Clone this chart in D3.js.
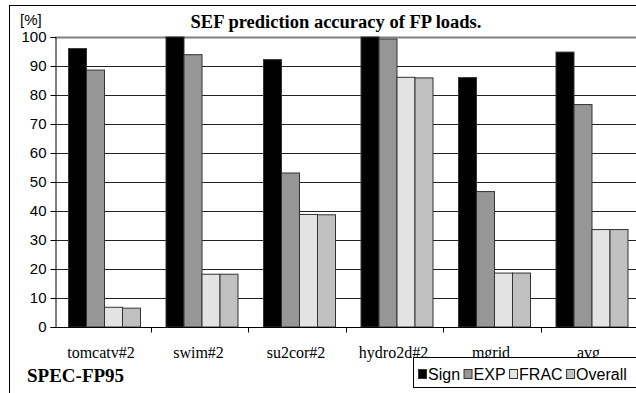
<!DOCTYPE html>
<html>
<head>
<meta charset="utf-8">
<script src="https://cdn.jsdelivr.net/npm/d3@7"></script>
<style>
  body { margin: 0; background: #fff; }
  svg { display: block; }
</style>
</head>
<body>
<div id="chart"></div>
<script>
// data
var categories = ["tomcatv#2", "swim#2", "su2cor#2", "hydro2d#2", "mgrid", "avg"];
var seriesNames = ["Sign", "EXP", "FRAC", "Overall"];
var sign    = [96, 100, 92.2, 100, 86, 94.8];
var exp     = [88.6, 93.9, 53.1, 99.3, 46.7, 76.7];
var frac    = [6.8, 18.2, 38.8, 86.1, 18.6, 33.6];
var overall = [6.5, 18.2, 38.7, 85.9, 18.6, 33.6];
var yTicks  = [0, 10, 20, 30, 40, 50, 60, 70, 80, 90, 100];
var colors  = ["#000000", "#969696", "#e3e3e3", "#c0c0c0"];

var values = [sign, exp, frac, overall];

var sans = "'Liberation Sans', Arial, sans-serif";
var serif = "'Liberation Serif', 'Times New Roman', serif";

var W = 636, H = 393;
var svg = d3.select("#chart").append("svg")
    .attr("width", W)
    .attr("height", H);

// outer frame (right and bottom run off the picture)
svg.append("rect")
    .attr("x", 9.5).attr("y", 5.5)
    .attr("width", 700).attr("height", 400)
    .attr("fill", "none")
    .attr("stroke", "#000")
    .attr("stroke-width", 1);

var x0 = d3.scaleBand()
    .domain(categories)
    .range([55, 640]);

var x1 = d3.scaleBand()
    .domain(seriesNames)
    .range([13, 13 + 4 * 18]);

var y = d3.scaleLinear()
    .domain([0, 100])
    .range([327, 37]);

// gridlines
svg.append("g")
  .selectAll("line")
  .data(yTicks.filter(function(d) { return d > 0; }))
  .enter().append("line")
    .attr("x1", 55).attr("x2", W)
    .attr("y1", function(d) { return Math.round(y(d)) + 0.5; })
    .attr("y2", function(d) { return Math.round(y(d)) + 0.5; })
    .attr("stroke", function(d) { return d == 100 ? "#808080" : "#222"; })
    .attr("stroke-width", function(d) { return d == 100 ? 2 : 1; });

// bars
var groups = svg.append("g")
  .selectAll("g")
  .data(categories)
  .enter().append("g")
    .attr("transform", function(d) { return "translate(" + x0(d) + ",0)"; });

groups.selectAll("rect")
  .data(function(d, i) {
    return seriesNames.map(function(s, j) { return {key: s, value: values[j][i], idx: j}; });
  })
  .enter().append("rect")
    .attr("x", function(d) { return x1(d.key) + 0.5; })
    .attr("y", function(d) { return y(d.value); })
    .attr("width", x1.bandwidth())
    .attr("height", function(d) { return y(0) - y(d.value); })
    .attr("fill", function(d) { return colors[d.idx]; })
    .attr("stroke", "#333")
    .attr("stroke-width", 1);

// y axis
var yAxis = svg.append("g")
    .attr("transform", "translate(55.5,0)")
    .call(d3.axisLeft(y).tickValues(yTicks).tickSize(5).tickPadding(4));
yAxis.select(".domain").attr("stroke", "#000");
yAxis.selectAll("text")
    .style("font-family", sans)
    .style("font-size", "15px")
    .attr("fill", "#000");

// x axis
var xAxis = svg.append("g")
    .attr("transform", "translate(0,327.5)");
xAxis.append("line")
    .attr("x1", 55).attr("x2", W)
    .attr("stroke", "#000");
xAxis.selectAll(".tk")
  .data(categories.slice(1))
  .enter().append("line")
    .attr("x1", function(d) { return Math.round(x0(d)) - 1.5; })
    .attr("x2", function(d) { return Math.round(x0(d)) - 1.5; })
    .attr("y1", 0).attr("y2", 5)
    .attr("stroke", "#000");
xAxis.selectAll("text")
  .data(categories)
  .enter().append("text")
    .attr("x", function(d) { return x0(d) + 46; })
    .attr("y", 30)
    .attr("text-anchor", "middle")
    .style("font-family", serif)
    .style("font-size", "16px")
    .text(function(d) { return d; });

// labels
svg.append("text")
    .attr("x", 20).attr("y", 25)
    .style("font-family", sans)
    .style("font-size", "15px")
    .text("[%]");

svg.append("text")
    .attr("x", 336).attr("y", 28)
    .attr("text-anchor", "middle")
    .style("font-family", serif)
    .style("font-size", "18.5px")
    .style("font-weight", "bold")
    .text("SEF prediction accuracy of FP loads.");

svg.append("text")
    .attr("x", 27).attr("y", 382)
    .style("font-family", serif)
    .style("font-size", "19px")
    .style("font-weight", "bold")
    .text("SPEC-FP95");

// legend
var legend = svg.append("g").attr("transform", "translate(413.5,357.5)");
legend.append("rect")
    .attr("width", 240).attr("height", 30)
    .attr("fill", "#fff")
    .attr("stroke", "#000");

// lay out the items one after the other, by the measured text widths
var lx = 5;
seriesNames.forEach(function(name, i) {
  var item = legend.append("g").attr("transform", "translate(" + lx + ",0)");
  item.append("rect")
      .attr("x", 0).attr("y", 12)
      .attr("width", 8).attr("height", 9)
      .attr("fill", colors[i])
      .attr("stroke", "#333");
  var t = item.append("text")
      .attr("x", 9.5).attr("y", 22)
      .style("font-family", sans)
      .style("font-size", "16px")
      .text(name);
  lx += 9.5 + t.node().getComputedTextLength() + 4;
});
</script>
</body>
</html>
